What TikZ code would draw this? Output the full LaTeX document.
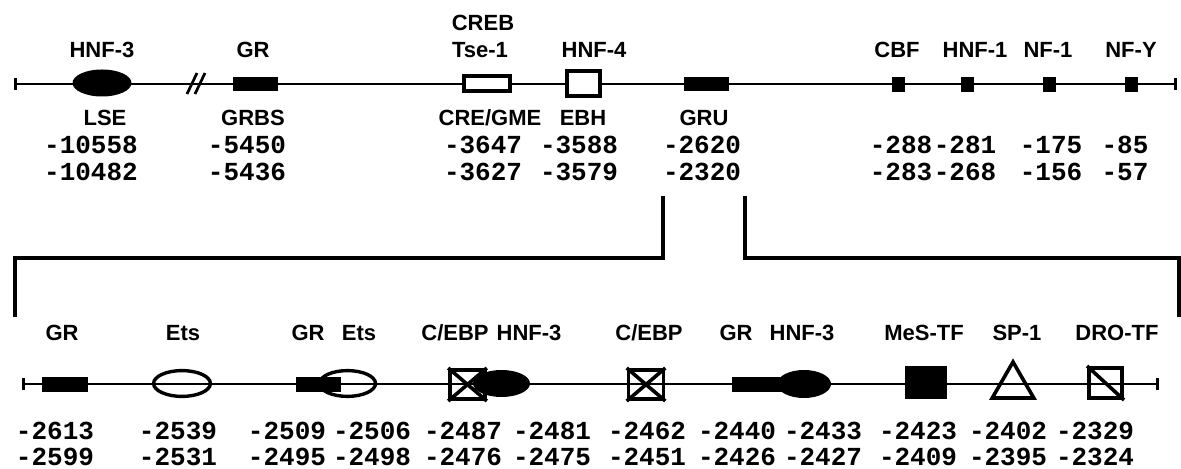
\documentclass[tikz,border=0pt]{standalone}
\usepackage{fontspec}
\setsansfont{Liberation Sans}
\setmonofont{Liberation Mono}
\usepackage{tikz}
\usetikzlibrary{positioning,shapes.geometric,arrows.meta}
\tikzset{
    site label/.style={font=\sffamily\bfseries\fontsize{11}{13}\selectfont, inner sep=0pt},
    position/.style={font=\ttfamily\bfseries\fontsize{13}{15}\selectfont, inner sep=0pt},
    dna/.style={line width=1.35pt, {Bar[width=6pt]}-{Bar[width=6pt]}},
    bar box/.style={rectangle, fill=black, inner sep=0pt, minimum width=22.5pt, minimum height=7pt},
    dot box/.style={rectangle, fill=black, inner sep=0pt, minimum width=6.5pt, minimum height=7.5pt},
    open box/.style={rectangle, draw, fill=white, line width=2pt, inner sep=0pt},
    cross box/.style={rectangle, draw, line width=1.8pt, inner sep=0pt, minimum width=17.5pt, minimum height=14.7pt},
    full oval/.style={ellipse, fill=black, inner sep=0pt, minimum width=28.5pt, minimum height=13.5pt},
    open oval/.style={ellipse, draw, line width=1.7pt, inner sep=0pt, minimum width=28.4pt, minimum height=12.9pt}
}

\begin{document}
\begin{tikzpicture}[x=0.5pt, y=-0.5pt]
    \useasboundingbox (0,0) rectangle (1181,469);

    % upstream region
    \coordinate (top start) at (14,84);
    \coordinate (top end) at (1177,84);
    \draw[dna] (top start) -- (top end);
    \draw[line width=1.35pt] (187,94) -- (197,73) (195,94) -- (205,73);

    \node[full oval, minimum width=29.5pt] (lse) at (102,83) {};
    \node[bar box] (grbs) at (255.5,84.5) {};
    \node[open box, minimum width=23pt, minimum height=7.5pt] (cre) at (487,83.5) {};
    \node[open box, minimum width=16.5pt, minimum height=12.5pt] (ebh) at (583.5,83.5) {};
    \node[bar box] (gru) at (706,84.5) {};
    \node[dot box] (cbf) at (898,84.5) {};
    \node[dot box] (hnf1) at (967,84.5) {};
    \node[dot box] (nf1) at (1049.5,84.5) {};
    \node[dot box] (nfy) at (1131,84.5) {};

    \node[site label] (lse top) at (102,50) {HNF-3};
    \node[site label] (grbs top) at (253,50) {GR};
    \node[site label] (cre creb) at (483,23) {CREB};
    \node[site label] (cre top) at (480,50) {Tse-1};
    \node[site label] (ebh top) at (594,50) {HNF-4};
    \node[site label] (cbf top) at (897,50) {CBF};
    \node[site label] (hnf1 top) at (975,50) {HNF-1};
    \node[site label] (nf1 top) at (1048,50) {NF-1};
    \node[site label] (nfy top) at (1131,50) {NF-Y};

    \node[site label] (lse name) at (105,118) {LSE};
    \node[site label] (grbs name) at (253,118) {GRBS};
    \node[site label] (cre name) at (490,118) {CRE/GME};
    \node[site label] (ebh name) at (583,118) {EBH};
    \node[site label] (gru name) at (704,118) {GRU};

    \node[position] (p1a) at (91,145) {-10558};
    \node[position] (p1b) at (91,172) {-10482};
    \node[position] (p2a) at (247,145) {-5450};
    \node[position] (p2b) at (247,172) {-5436};
    \node[position] (p3a) at (483,145) {-3647};
    \node[position] (p3b) at (483,172) {-3627};
    \node[position] (p4a) at (579,145) {-3588};
    \node[position] (p4b) at (579,172) {-3579};
    \node[position] (p5a) at (702,145) {-2620};
    \node[position] (p5b) at (702,172) {-2320};
    \node[position] (p6a) at (901,145) {-288};
    \node[position] (p6b) at (901,172) {-283};
    \node[position] (p7a) at (965,145) {-281};
    \node[position] (p7b) at (965,172) {-268};
    \node[position] (p8a) at (1051,145) {-175};
    \node[position] (p8b) at (1051,172) {-156};
    \node[position] (p9a) at (1125,145) {-85};
    \node[position] (p9b) at (1125,172) {-57};

    % zoom into the GRU
    \coordinate (zoom left top) at (663,196);
    \coordinate (zoom left knee) at (663,258);
    \coordinate (zoom left end) at (15,317);
    \coordinate (zoom right top) at (745,196);
    \coordinate (zoom right knee) at (745,258);
    \coordinate (zoom right end) at (1179,317);
    \draw[line width=1.6pt] (zoom left top) -- (zoom left knee) -| (zoom left end);
    \draw[line width=1.6pt] (zoom right top) -- (zoom right knee) -| (zoom right end);

    % GRU in detail
    \coordinate (gru start) at (22,384);
    \coordinate (gru end) at (1159,384);
    \draw[dna] (gru start) -- (gru end);

    \node[bar box, minimum width=23pt, minimum height=7.5pt] (gr1) at (65,384.5) {};
    \node[open oval] (ets1) at (182,383.5) {};
    \node[bar box, minimum width=22.5pt, minimum height=7.5pt] (gr2) at (318.5,384.5) {};
    \node[open oval, minimum width=28pt] (ets2) at (347.5,383.5) {};
    \node[cross box] (cebp1) at (467.5,384.5) {};
    \draw[line width=1.8pt] (cebp1.north west) -- (cebp1.south east) (cebp1.north east) -- (cebp1.south west);
    \node[full oval] (hnf3a) at (501.5,383.5) {};
    \node[cross box] (cebp2) at (646,384.5) {};
    \draw[line width=1.8pt] (cebp2.north west) -- (cebp2.south east) (cebp2.north east) -- (cebp2.south west);
    \node[bar box, minimum width=25.5pt, minimum height=7.5pt] (gr3) at (757.5,384.5) {};
    \node[full oval, minimum width=27pt, minimum height=14pt] (hnf3b) at (804,384) {};
    \node[rectangle, fill=black, inner sep=0pt, minimum width=21pt, minimum height=16.5pt] (mes) at (926,382.5) {};
    \node[regular polygon, regular polygon sides=3, draw, line width=1.8pt, inner sep=0pt, minimum size=24pt] (sp1) at (1013,386) {};
    \node[cross box, minimum width=16.7pt, minimum height=15.2pt] (dro) at (1105.5,383) {};
    \draw[line width=1.8pt] (dro.north west) -- (dro.south east);

    \node[site label] (gr1 top) at (62,333) {GR};
    \node[site label] (ets1 top) at (183,333) {Ets};
    \node[site label] (gr2 top) at (308,333) {GR};
    \node[site label] (ets2 top) at (359,333) {Ets};
    \node[site label] (cebp1 top) at (455,333) {C/EBP};
    \node[site label] (hnf3a top) at (529,333) {HNF-3};
    \node[site label] (cebp2 top) at (649,333) {C/EBP};
    \node[site label] (gr3 top) at (736,333) {GR};
    \node[site label] (hnf3b top) at (802,333) {HNF-3};
    \node[site label] (mes top) at (924,333) {MeS-TF};
    \node[site label] (sp1 top) at (1017,333) {SP-1};
    \node[site label] (dro top) at (1117,333) {DRO-TF};

    \node[position] (q1a) at (55,431) {-2613};
    \node[position] (q1b) at (55,457) {-2599};
    \node[position] (q2a) at (178,431) {-2539};
    \node[position] (q2b) at (178,457) {-2531};
    \node[position] (q3a) at (287,431) {-2509};
    \node[position] (q3b) at (287,457) {-2495};
    \node[position] (q4a) at (372,431) {-2506};
    \node[position] (q4b) at (372,457) {-2498};
    \node[position] (q5a) at (463,431) {-2487};
    \node[position] (q5b) at (463,457) {-2476};
    \node[position] (q6a) at (552,431) {-2481};
    \node[position] (q6b) at (552,457) {-2475};
    \node[position] (q7a) at (647,431) {-2462};
    \node[position] (q7b) at (647,457) {-2451};
    \node[position] (q8a) at (737,431) {-2440};
    \node[position] (q8b) at (737,457) {-2426};
    \node[position] (q9a) at (823,431) {-2433};
    \node[position] (q9b) at (823,457) {-2427};
    \node[position] (q10a) at (918,431) {-2423};
    \node[position] (q10b) at (918,457) {-2409};
    \node[position] (q11a) at (1008,431) {-2402};
    \node[position] (q11b) at (1008,457) {-2395};
    \node[position] (q12a) at (1095,431) {-2329};
    \node[position] (q12b) at (1095,457) {-2324};

\end{tikzpicture}
\end{document}
